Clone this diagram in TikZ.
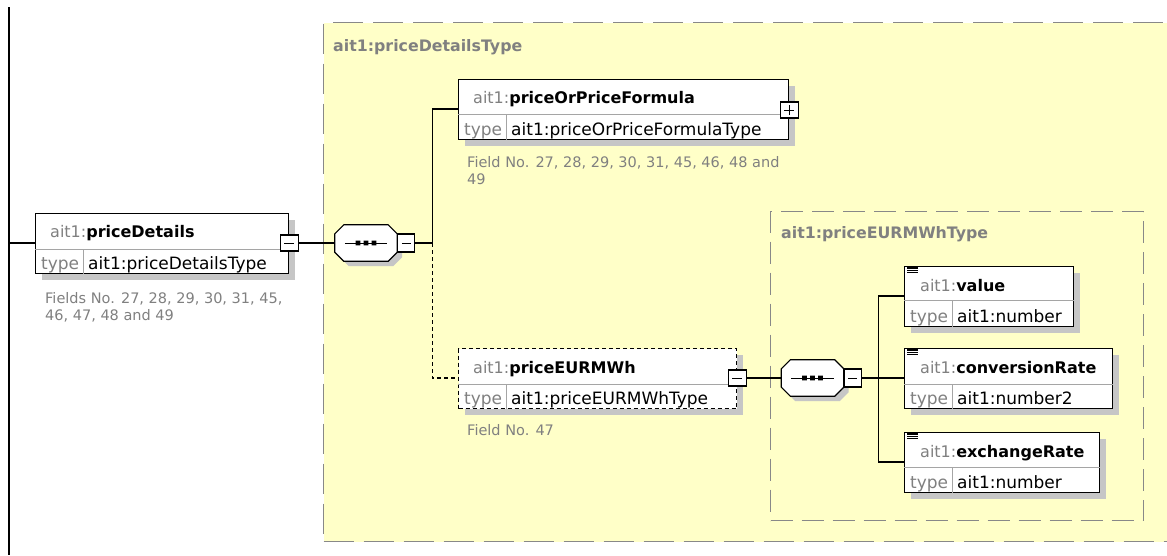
\documentclass[tikz,border=0pt]{standalone}
\usepackage{fontspec}
\setmainfont{DejaVu Sans}
\usetikzlibrary{shadows,positioning}
\definecolor{groupfill}{RGB}{255,255,200}
\definecolor{groupline}{RGB}{136,136,136}
\definecolor{shadowgray}{RGB}{198,198,198}
\definecolor{notegray}{RGB}{128,128,128}
\definecolor{rowgray}{RGB}{165,165,165}
\newcommand{\pfx}[1]{{\color{notegray}\mdseries #1}}

\begin{document}
\begin{tikzpicture}[
    x=1pt, y=-1pt,
    groupbox/.style={draw=groupline, line width=1.3pt, dash pattern=on 30pt off 10pt, fill=groupfill, anchor=north west, inner sep=0pt},
    grouplabel/.style={anchor=base west, inner sep=0pt, text=notegray, font=\fontsize{15.8}{18}\selectfont\bfseries},
    elem/.style={draw, line width=1.3pt, fill=white, anchor=north west, inner sep=0pt, minimum height=60pt, drop shadow={shadow xshift=6pt, shadow yshift=-6pt, fill=shadowgray, opacity=1}},
    optelem/.style={elem, dash pattern=on 4pt off 3pt},
    elemname/.style={anchor=base west, inner sep=0pt, font=\fontsize{16}{18}\selectfont\bfseries},
    typelabel/.style={anchor=base west, inner sep=0pt, text=notegray, font=\fontsize{17}{19}\selectfont},
    typename/.style={anchor=base west, inner sep=0pt, font=\fontsize{17}{19}\selectfont},
    fieldnote/.style={anchor=north west, inner sep=0pt, align=left, text=notegray, font=\fontsize{14.5}{17}\selectfont},
    rowline/.style={rowgray, line width=0.8pt},
    iconline/.style={line width=1.1pt},
    conn/.style={line width=1.2pt},
    optline/.style={dash pattern=on 4pt off 3pt},
    minusbox/.style={draw, line width=1.1pt, fill=white, minimum width=18pt, minimum height=16pt, inner sep=0pt,
        path picture={\draw[black, line width=1pt] ([xshift=4pt]path picture bounding box.west) -- ([xshift=-4pt]path picture bounding box.east);}},
    plusbox/.style={minusbox,
        path picture={\draw[black, line width=1pt] ([xshift=4pt]path picture bounding box.west) -- ([xshift=-4pt]path picture bounding box.east)
            ([yshift=3pt]path picture bounding box.south) -- ([yshift=-3pt]path picture bounding box.north);}},
    seqnode/.style={minimum width=62pt, minimum height=36pt, inner sep=0pt},
    seqshape/.style={draw, line width=1.2pt, fill=white, drop shadow={shadow xshift=5pt, shadow yshift=-5pt, fill=shadowgray, opacity=1}},
    seqline/.style={line width=1pt},
    seqminus/.style={minusbox, minimum width=17pt, minimum height=18pt, anchor=west}
]
\useasboundingbox[fill=white] (0,0) rectangle (1167,555);

% Groups (complex types)
\begin{scope}
\clip (0,0) rectangle (1167,555);
\node[groupbox, minimum width=900pt, minimum height=519pt] (pdtype) at (323,22) {};
\end{scope}
\node[grouplabel] (pdtypelbl) at ([xshift=10pt,yshift=-29pt]pdtype.north west) {ait1:priceDetailsType};
\node[groupbox, dash pattern=on 22pt off 9pt, minimum width=373pt, minimum height=309pt] (eurtype) at (770,211) {};
\node[grouplabel] (eurtypelbl) at ([xshift=11pt,yshift=-27pt]eurtype.north west) {ait1:priceEURMWhType};

% Root element
\draw[conn] (9,7) -- (9,555);
\coordinate (root) at (9,243);
\node[elem, minimum width=253pt] (pd) at (35,213) {};
\draw[rowline] ([yshift=-36pt]pd.north west) -- ([yshift=-36pt]pd.north east);
\draw[rowline] ([xshift=48pt,yshift=-36pt]pd.north west) -- ([xshift=48pt]pd.south west);
\node[elemname] (pdname) at ([xshift=15pt,yshift=-24pt]pd.north west) {\pfx{ait1:}priceDetails};
\node[typelabel] (pdtl) at ([xshift=6pt,yshift=5pt]pd.south west) {type};
\node[typename] (pdtn) at ([xshift=53pt,yshift=5pt]pd.south west) {ait1:priceDetailsType};
\node[minusbox] (pdminus) at ([yshift=-30pt]pd.north east) {};
\node[fieldnote] (pdnote) at ([xshift=10pt,yshift=-18pt]pd.south west) {Fields No. 27, 28, 29, 30, 31, 45,\\46, 47, 48 and 49};

% Sequence 1
\node[seqnode] (s1) at (366,243) {};
\draw[seqshape] ([xshift=9pt]s1.north west) -- ([xshift=-9pt]s1.north east) -- ([yshift=-9pt]s1.north east) -- ([yshift=9pt]s1.south east)
    -- ([xshift=-9pt]s1.south east) -- ([xshift=9pt]s1.south west) -- ([yshift=9pt]s1.south west) -- ([yshift=-9pt]s1.north west) -- cycle;
\draw[seqline] ([xshift=10pt]s1.west) -- ([xshift=-10pt]s1.east);
\fill ([xshift=-8pt]s1.center) +(-2.4pt,-2.4pt) rectangle +(2.4pt,2.4pt) (s1.center) +(-2.4pt,-2.4pt) rectangle +(2.4pt,2.4pt) ([xshift=8pt]s1.center) +(-2.4pt,-2.4pt) rectangle +(2.4pt,2.4pt);
\node[seqminus] (s1minus) at (s1.east) {};

% priceOrPriceFormula
\node[elem, minimum width=330pt] (pof) at (458,79) {};
\draw[rowline] ([yshift=-35pt]pof.north west) -- ([yshift=-35pt]pof.north east);
\draw[rowline] ([xshift=48pt,yshift=-35pt]pof.north west) -- ([xshift=48pt]pof.south west);
\node[elemname] (pofname) at ([xshift=15pt,yshift=-24pt]pof.north west) {\pfx{ait1:}priceOrPriceFormula};
\node[typelabel] (poftl) at ([xshift=6pt,yshift=5pt]pof.south west) {type};
\node[typename] (poftn) at ([xshift=53pt,yshift=5pt]pof.south west) {ait1:priceOrPriceFormulaType};
\node[plusbox] (pofplus) at ([yshift=-31pt]pof.north east) {};
\node[fieldnote] (pofnote) at ([xshift=9pt,yshift=-16pt]pof.south west) {Field No. 27, 28, 29, 30, 31, 45, 46, 48 and\\49};

% priceEURMWh (optional)
\node[optelem, minimum width=278pt] (pe) at (458,348) {};
\draw[rowline] ([yshift=-36pt]pe.north west) -- ([yshift=-36pt]pe.north east);
\draw[rowline] ([xshift=48pt,yshift=-36pt]pe.north west) -- ([xshift=48pt]pe.south west);
\node[elemname] (pename) at ([xshift=15pt,yshift=-25pt]pe.north west) {\pfx{ait1:}priceEURMWh};
\node[typelabel] (petl) at ([xshift=6pt,yshift=5pt]pe.south west) {type};
\node[typename] (petn) at ([xshift=53pt,yshift=5pt]pe.south west) {ait1:priceEURMWhType};
\node[minusbox] (peminus) at ([yshift=-30pt]pe.north east) {};
\node[fieldnote] (penote) at ([xshift=9pt,yshift=-15pt]pe.south west) {Field No. 47};

% Sequence 2
\node[seqnode] (s2) at (812.5,378) {};
\draw[seqshape] ([xshift=9pt]s2.north west) -- ([xshift=-9pt]s2.north east) -- ([yshift=-9pt]s2.north east) -- ([yshift=9pt]s2.south east)
    -- ([xshift=-9pt]s2.south east) -- ([xshift=9pt]s2.south west) -- ([yshift=9pt]s2.south west) -- ([yshift=-9pt]s2.north west) -- cycle;
\draw[seqline] ([xshift=10pt]s2.west) -- ([xshift=-10pt]s2.east);
\fill ([xshift=-8pt]s2.center) +(-2.4pt,-2.4pt) rectangle +(2.4pt,2.4pt) (s2.center) +(-2.4pt,-2.4pt) rectangle +(2.4pt,2.4pt) ([xshift=8pt]s2.center) +(-2.4pt,-2.4pt) rectangle +(2.4pt,2.4pt);
\node[seqminus] (s2minus) at (s2.east) {};

% Children of priceEURMWhType
\node[elem, minimum width=169pt] (val) at (904,266) {};
\draw[rowline] ([yshift=-34pt]val.north west) -- ([yshift=-34pt]val.north east);
\draw[rowline] ([xshift=48pt,yshift=-34pt]val.north west) -- ([xshift=48pt]val.south west);
\node[elemname] (valname) at ([xshift=16pt,yshift=-25pt]val.north west) {\pfx{ait1:}value};
\node[typelabel] (valtl) at ([xshift=6pt,yshift=5pt]val.south west) {type};
\node[typename] (valtn) at ([xshift=53pt,yshift=5pt]val.south west) {ait1:number};
\draw[iconline] ([shift={(3pt,-2pt)}]val.north west) -- ++(11pt,0) ([shift={(3pt,-4.4pt)}]val.north west) -- ++(11pt,0) ([shift={(3pt,-6.8pt)}]val.north west) -- ++(11pt,0);

\node[elem, minimum width=208pt] (conv) at (904,348) {};
\draw[rowline] ([yshift=-36pt]conv.north west) -- ([yshift=-36pt]conv.north east);
\draw[rowline] ([xshift=48pt,yshift=-36pt]conv.north west) -- ([xshift=48pt]conv.south west);
\node[elemname] (convname) at ([xshift=16pt,yshift=-25pt]conv.north west) {\pfx{ait1:}conversionRate};
\node[typelabel] (convtl) at ([xshift=6pt,yshift=5pt]conv.south west) {type};
\node[typename] (convtn) at ([xshift=53pt,yshift=5pt]conv.south west) {ait1:number2};
\draw[iconline] ([shift={(3pt,-2pt)}]conv.north west) -- ++(11pt,0) ([shift={(3pt,-4.4pt)}]conv.north west) -- ++(11pt,0) ([shift={(3pt,-6.8pt)}]conv.north west) -- ++(11pt,0);

\node[elem, minimum width=195pt] (exch) at (904,432) {};
\draw[rowline] ([yshift=-35pt]exch.north west) -- ([yshift=-35pt]exch.north east);
\draw[rowline] ([xshift=48pt,yshift=-35pt]exch.north west) -- ([xshift=48pt]exch.south west);
\node[elemname] (exchname) at ([xshift=16pt,yshift=-25pt]exch.north west) {\pfx{ait1:}exchangeRate};
\node[typelabel] (exchtl) at ([xshift=6pt,yshift=5pt]exch.south west) {type};
\node[typename] (exchtn) at ([xshift=53pt,yshift=5pt]exch.south west) {ait1:number};
\draw[iconline] ([shift={(3pt,-2pt)}]exch.north west) -- ++(11pt,0) ([shift={(3pt,-4.4pt)}]exch.north west) -- ++(11pt,0) ([shift={(3pt,-6.8pt)}]exch.north west) -- ++(11pt,0);

% Connectors
\draw[conn] (root) -- ([yshift=-30pt]pd.north west);
\draw[conn] (pdminus.east) -- (s1.west);
\draw[conn] (s1minus.east) -- ++(17,0) coordinate (j1) |- ([yshift=-30pt]pof.north west);
\draw[conn, optline] (j1) |- ([yshift=-30pt]pe.north west);
\draw[conn] (peminus.east) -- (s2.west);
\draw[conn] (s2minus.east) -- ++(17,0) coordinate (j2) |- ([yshift=-30pt]val.north west);
\draw[conn] (j2) -- ([yshift=-30pt]conv.north west);
\draw[conn] (j2) |- ([yshift=-30pt]exch.north west);

\end{tikzpicture}
\end{document}
